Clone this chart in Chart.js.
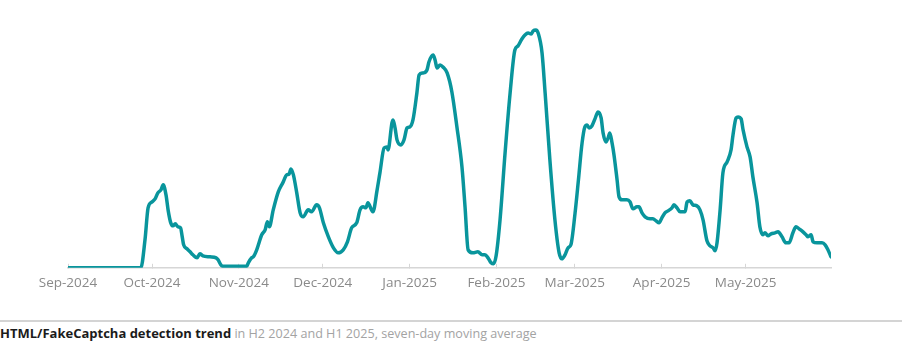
<!DOCTYPE html>
<html>
<head>
<meta charset="utf-8">
<script src="https://cdn.jsdelivr.net/npm/chart.js@4"></script>
<style>
  html, body { margin: 0; padding: 0; background: #ffffff; }
  body { width: 906px; height: 356px; position: relative; overflow: hidden; font-family: "Open Sans", sans-serif; }
  #wrap { position: absolute; left: 0; top: 0; width: 906px; height: 303px; }
  #sep { position: absolute; left: 0; top: 320px; width: 902px; height: 0; border-top: 2px solid #d4d4d4; }
  #cap { position: absolute; left: 0; top: 324px; font-size: 12.6px; line-height: 18px; color: #a3a3a3; white-space: nowrap; }
  #cap b { color: #1b1b1b; font-weight: 700; font-size: 13px; }
</style>
</head>
<body>
<div id="wrap"><canvas id="c" width="906" height="303"></canvas></div>
<div id="sep"></div>
<div id="cap"><b>HTML/FakeCaptcha detection trend</b> in H2 2024 and H1 2025, seven-day moving average</div>
<script>
// Days counted from 1 Sep 2024
const days = [
  0, 26, 27.5, 28.6, 30, 31.1, 32.1, 33.2, 34, 35, 35.8, 36.7, 37.5, 38.3, 39.3, 40.2, 40.8, 41.3, 42.5, 43.6,
  44.6, 46.1, 47.1, 48.2, 50.7, 52.9, 53.6, 54.6, 55.4, 63.8, 64.4, 65.6, 66.2, 67.4, 69.2, 70.4, 71.2, 71.9, 73.3, 75.1,
  76.7, 78.1, 79, 79.6, 80.5, 81.7, 82.9, 84, 85.8, 87, 88.8, 89.8, 91.2, 93, 94.8, 96.5, 98.3, 99.8, 101.3, 103.1,
  104.3, 105.4, 106.4, 107.1, 108.9, 110.4, 111.4, 112.9, 113.9, 114.3, 115.7, 116.1, 116.8, 117.5, 118.9, 120, 121.1, 122.1, 123.2, 124.6,
  125.4, 126.8, 128.2, 128.9, 130.4, 131.1, 131.8, 132.9, 133.9, 135.4, 137.1, 138.9, 140.7, 141.8, 142.9, 144.6, 146.4, 147.9, 148.9, 150,
  151.1, 152, 152.9, 154.3, 156.1, 157.9, 159.6, 160.7, 162.1, 163.2, 164.3, 165.4, 166.1, 167.1, 167.9, 169.3, 170.4, 172.1, 173.9, 175.4,
  176.4, 177.5, 178.6, 179.6, 181.1, 182.3, 183.6, 184.6, 185.4, 186.1, 187.1, 188.2, 189.3, 190.4, 191.1, 192.1, 192.9, 193.5, 194.3, 195,
  196.1, 196.8, 197.9, 199.6, 200.7, 201.8, 203.2, 203.9, 205, 206.1, 207.9, 208.9, 210, 211.1, 212.1, 213.2, 214.3, 215.7, 216.4, 217.5,
  218.6, 220.4, 221.1, 222.1, 223.2, 224.6, 225.7, 226.8, 228.2, 229.3, 230.4, 231.1, 231.8, 232.9, 233.9, 235.4, 236.8, 237.5, 238.6, 239.3,
  240.4, 241.1, 242.5, 243.6, 244.6, 246.1, 247.1, 248.2, 248.9, 250, 251.1, 252.5, 253.6, 255, 256.4, 257.5, 258.9, 260, 261.1, 262.1,
  263.6, 264.3, 265.4, 266.1, 267.5, 269.3, 270.4, 271.4, 272.5
];
const detections = [
  0, 0, 28, 60, 66, 69, 75, 78, 83, 73, 57, 45, 42, 44, 41, 40, 31, 23, 19, 16,
  13, 10, 14, 12, 11, 10, 8, 3, 1.5, 1.5, 5, 10, 11, 18, 33, 38, 46, 41, 58, 76,
  85, 93, 94, 99, 93, 75, 55, 51, 58, 56, 63, 60, 45, 31, 20, 15, 18, 26, 40, 45,
  58, 61, 60, 65, 56, 78, 95, 120, 121, 118, 145, 148, 140, 128, 123, 128, 140, 141, 148, 175,
  193, 195, 198, 206, 213, 208, 200, 203, 201, 195, 176, 141, 101, 61, 18, 15, 16, 13, 13, 10,
  5, 4, 12, 48, 115, 175, 218, 222, 229, 233, 235, 234, 237, 238, 235, 215, 175, 108, 48, 15,
  9, 13, 20, 23, 55, 88, 125, 141, 143, 140, 142, 149, 156, 150, 135, 126, 130, 135, 125, 113,
  88, 71, 68, 68, 66, 59, 61, 61, 55, 51, 49, 49, 47, 45, 50, 55, 57, 60, 63, 60,
  56, 56, 66, 67, 63, 62, 58, 48, 27, 22, 20, 17, 25, 58, 95, 106, 118, 133, 150, 151,
  149, 138, 121, 111, 91, 65, 41, 33, 35, 32, 34, 35, 36, 31, 25, 25, 35, 41, 39, 37,
  33, 31, 33, 26, 25, 25, 23, 18, 11
];
const monthStarts = [0, 30, 61, 91, 122, 153, 181, 212, 242];
const monthLabels = ['Sep-2024', 'Oct-2024', 'Nov-2024', 'Dec-2024', 'Jan-2025', 'Feb-2025', 'Mar-2025', 'Apr-2025', 'May-2025'];

const points = days.map((d, i) => ({ x: d, y: detections[i] }));

new Chart(document.getElementById('c'), {
  type: 'line',
  data: {
    datasets: [{
      data: points,
      borderColor: '#09959c',
      borderWidth: 3.5,
      pointRadius: 0,
      fill: false,
      cubicInterpolationMode: 'monotone',
      borderCapStyle: 'round',
      borderJoinStyle: 'round'
    }]
  },
  options: {
    responsive: false,
    animation: false,
    events: [],
    layout: { padding: { left: 68, right: 75, top: 18, bottom: 0 } },
    plugins: { legend: { display: false }, tooltip: { enabled: false }, title: { display: false } },
    scales: {
      x: {
        type: 'linear',
        min: 0,
        max: 272.5,
        afterBuildTicks: (scale) => { scale.ticks = monthStarts.map(v => ({ value: v })); },
        ticks: {
          autoSkip: false,
          maxRotation: 0,
          padding: 11.5,
          color: '#8a8a8a',
          font: { family: 'Open Sans', size: 13.5 },
          callback: (value, index) => monthLabels[index]
        },
        grid: { display: true, drawOnChartArea: false, drawTicks: true, tickLength: -4, color: '#d6d6d6', lineWidth: 1 },
        border: { display: true, color: '#d6d6d6', width: 1.5 }
      },
      y: {
        display: false,
        min: 0,
        max: 250
      }
    }
  }
});
</script>
</body>
</html>
